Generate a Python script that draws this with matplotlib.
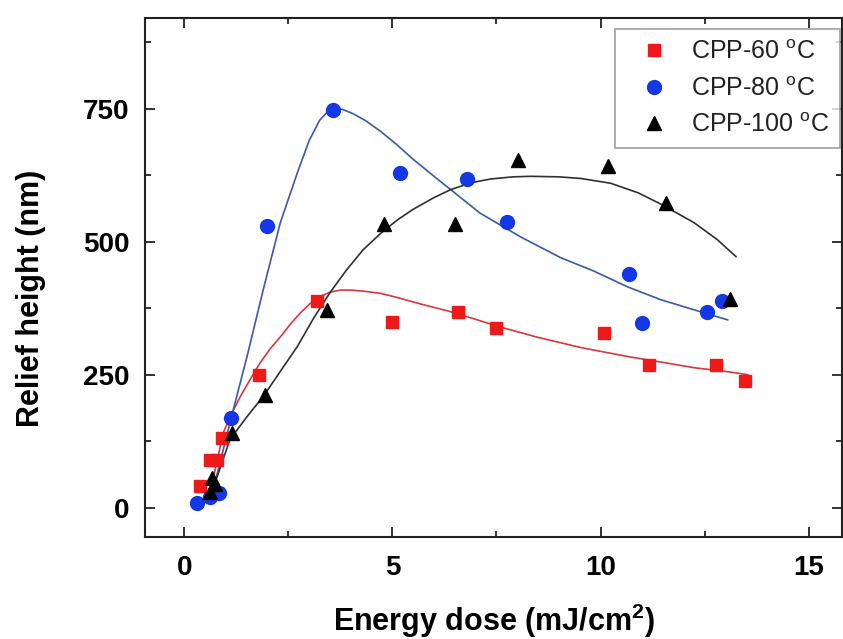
import matplotlib
matplotlib.use('Agg')
import matplotlib.pyplot as plt
from matplotlib.ticker import MultipleLocator

plt.rcParams['font.family'] = ['Liberation Sans', 'DejaVu Sans']
plt.rcParams['mathtext.fontset'] = 'custom'
plt.rcParams['mathtext.rm'] = 'Liberation Sans'

# 测量点
x60 = [0.38, 0.63, 0.79, 0.91, 1.8, 3.18, 5.0, 6.58, 7.48, 10.08, 11.16, 12.76, 13.46]
y60 = [40, 90, 90, 130, 250, 389, 349, 368, 338, 328, 269, 269, 238]

x80 = [0.31, 0.63, 0.84, 1.13, 2.0, 3.58, 5.18, 6.8, 7.76, 10.68, 10.99, 12.56, 12.92]
y80 = [9, 19, 28, 169, 529, 748, 629, 618, 538, 439, 348, 368, 389]

x100 = [0.63, 0.67, 0.75, 1.15, 1.95, 3.42, 4.81, 6.5, 8.01, 10.18, 11.58, 13.1]
y100 = [30, 56, 45, 141, 212, 371, 533, 533, 653, 643, 573, 392]

# 拟合曲线
fx60 = [0.6, 0.7, 0.94, 1.15, 1.35, 1.6, 1.83, 2.07, 2.31, 2.55, 2.79, 3.03, 3.27, 3.5,
        3.75, 4.0, 4.3, 4.71, 5.12, 5.67, 6.32, 7.0, 7.52, 8.5, 9.52, 10.65, 11.5,
        12.24, 13.0, 13.53]
fy60 = [25, 55, 141, 178, 209, 243, 273, 299, 321, 345, 366, 384, 397, 405,
        409, 409, 407, 403, 395, 383, 370, 354, 341, 320, 301, 284, 273,
        263, 256, 250]

fx80 = [0.58, 0.7, 0.94, 1.18, 1.51, 1.9, 2.31, 2.72, 3.0, 3.25, 3.45, 3.6, 3.8, 4.05,
        4.35, 4.71, 5.1, 5.5, 6.0, 6.4, 7.1, 8.08, 9.04, 9.83, 10.65, 11.44, 12.24,
        13.05]
fy80 = [9, 34, 109, 184, 284, 410, 536, 630, 690, 728, 745, 750, 749, 741,
        728, 708, 683, 655, 623, 598, 554, 509, 470, 445, 415, 391, 372,
        353]

fx100 = [0.63, 1.1, 1.5, 1.9, 2.3, 2.72, 3.1, 3.5, 3.9, 4.3, 4.71, 5.12, 5.5, 6.0, 6.4,
         6.9, 7.36, 7.9, 8.32, 9.0, 9.52, 10.24, 10.9, 11.44, 12.24, 12.8, 13.25]
fy100 = [21, 128, 170, 209, 255, 303, 355, 404, 447, 485, 515, 541, 561, 583, 598,
         611, 618, 622, 623, 622, 619, 610, 592, 571, 536, 504, 472]

fig = plt.figure(figsize=(8.43, 6.39), dpi=100)
ax = fig.add_axes([0.172, 0.16, 0.827, 0.812])

ax.plot(fx60, fy60, color='#d9383a', lw=1.2, zorder=2)
ax.plot(fx80, fy80, color='#3a5aa8', lw=1.2, zorder=2)
ax.plot(fx100, fy100, color='#303030', lw=1.2, zorder=2)

ax.plot(x60, y60, 's', color='#ee1a1a', ms=9, ls='none', label='CPP-60 $^{\\mathregular{o}}$C', zorder=3)
ax.plot(x80, y80, 'o', color='#1438e6', ms=10, ls='none', label='CPP-80 $^{\\mathregular{o}}$C', zorder=3)
ax.plot(x100, y100, '^', color='black', ms=10, ls='none', label='CPP-100 $^{\\mathregular{o}}$C', zorder=3)

ax.set_xlim(-0.94, 15.8)
ax.set_ylim(-55, 921)
ax.xaxis.set_major_locator(MultipleLocator(5))
ax.xaxis.set_minor_locator(MultipleLocator(2.5))
ax.yaxis.set_major_locator(MultipleLocator(250))
ax.yaxis.set_minor_locator(MultipleLocator(125))
ax.tick_params(which='both', direction='in', top=True, right=True, width=1.3, color='#222222')
ax.tick_params(which='major', length=7)
ax.tick_params(which='minor', length=4)
ax.tick_params(axis='x', which='major', pad=13)
ax.tick_params(axis='y', which='major', pad=11)
for lab in ax.get_xticklabels() + ax.get_yticklabels():
    lab.set_fontsize(20)
    lab.set_fontweight('bold')
for sp in ax.spines.values():
    sp.set_linewidth(1.5)
    sp.set_color('#222222')

ax.set_xlabel('Energy dose (mJ/cm$^{\\mathregular{2}}$)', fontsize=22, fontweight='bold')
ax.xaxis.set_label_coords(0.5, -0.126)
ax.set_ylabel('Relief height (nm)', fontsize=22, fontweight='bold')
ax.yaxis.set_label_coords(-0.142, 0.46)

leg = ax.legend(loc='upper right', bbox_to_anchor=(0.997, 0.979), borderaxespad=0,
                fontsize=18, frameon=True, fancybox=False, handletextpad=0.36,
                borderpad=0.45, labelspacing=0.5, handlelength=2.2)
leg.get_frame().set_edgecolor('#888888')
leg.get_frame().set_linewidth(1.2)
for t in leg.get_texts():
    t.set_color('#222222')

plt.savefig('out.png', dpi=100)
